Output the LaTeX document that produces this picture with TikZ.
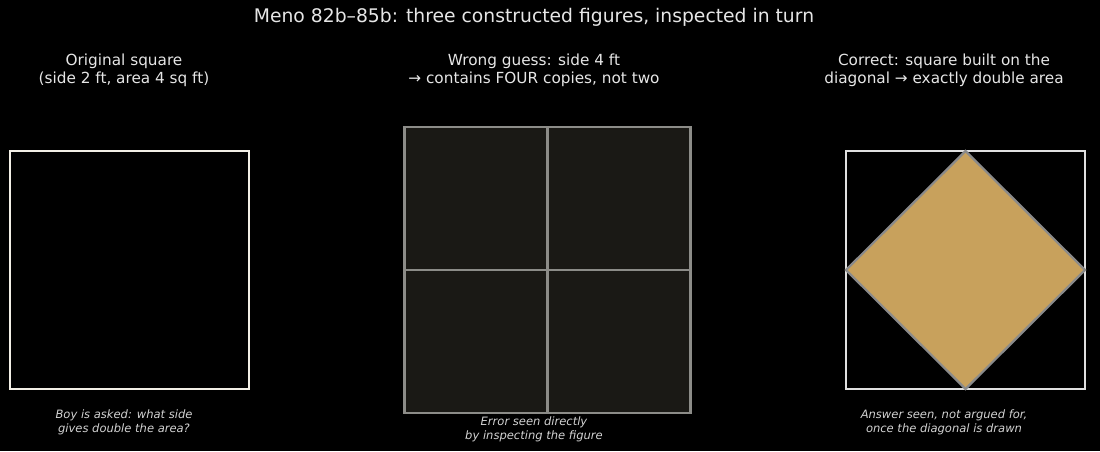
\documentclass[tikz,border=0pt]{standalone}
\usepackage{fontspec}
\setmainfont{DejaVu Sans}
\definecolor{inkc}{HTML}{E6E6E6}
\definecolor{notec}{HTML}{D2D2D2}
\definecolor{creamc}{HTML}{F2EFE6}
\definecolor{gridc}{HTML}{8C8C88}
\definecolor{darkc}{HTML}{1A1915}
\definecolor{framec}{HTML}{E0E0E0}
\definecolor{tanc}{HTML}{C8A15C}
\definecolor{edgec}{HTML}{8A8A8A}
\begin{document}
\begin{tikzpicture}[x=0.72pt,y=-0.72pt,
  title node/.style={text=inkc,font=\fontsize{13.5}{16}\selectfont},
  head node/.style={text=inkc,align=center,font=\fontsize{11}{13}\selectfont},
  note node/.style={text=notec,align=center,font=\fontsize{8.3}{10}\selectfont\itshape}]

  \fill[black] (0,0) rectangle (1100,451);
  \useasboundingbox (0,0) rectangle (1100,451);

  \node[title node] (title) at (534,17) {Meno 82b–85b: three constructed figures, inspected in turn};

  % headings
  \node[head node] (h1) at (124,70) {Original square\\(side 2 ft, area 4 sq ft)};
  \node[head node] (h2) at (534,70) {Wrong guess: side 4 ft\\→ contains FOUR copies, not two};
  \node[head node] (h3) at (944,70) {Correct: square built on the\\diagonal → exactly double area};

  % original square
  \draw[creamc,line width=2pt] (10,151) rectangle (249,389);

  % doubled side, four copies
  \draw[gridc,fill=darkc,line width=2pt] (404.5,127) rectangle (690.5,413);
  \draw[gridc,line width=1.6pt] (547.5,127) -- (547.5,413) (404.5,270) -- (690.5,270);

  % square on the diagonal
  \draw[framec,line width=1.2pt] (846,151) rectangle (1085,389);
  \draw[edgec,fill=tanc,line width=1.6pt] (965.5,151) -- (1085,270) -- (965.5,389) -- (846,270) -- cycle;

  % notes
  \node[note node] (n1) at (124,422) {Boy is asked: what side\\gives double the area?};
  \node[note node] (n2) at (534,429) {Error seen directly\\by inspecting the figure};
  \node[note node] (n3) at (944,422) {Answer seen, not argued for,\\once the diagonal is drawn};
\end{tikzpicture}
\end{document}
